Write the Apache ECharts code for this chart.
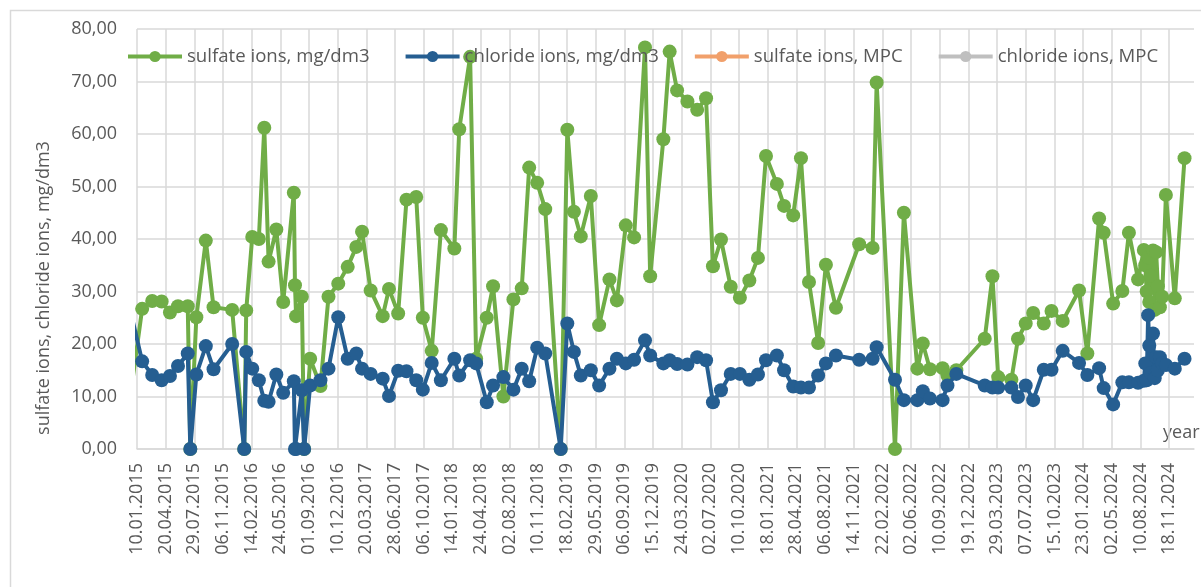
<!DOCTYPE html>
<html>
<head>
<meta charset="utf-8">
<script src="https://cdn.jsdelivr.net/npm/echarts@6/dist/echarts.min.js"></script>
<style>
  html, body { margin: 0; padding: 0; background: #ffffff; }
  #chart { width: 1201px; height: 587px; }
</style>
</head>
<body>
<div id="chart"></div>
<script>
// Sampling dates (dd.mm.yyyy)
const dates = [
  '15.12.2014',
  '28.01.2015','04.03.2015','06.04.2015','05.05.2015','02.06.2015','06.07.2015','15.07.2015','05.08.2015','07.09.2015','04.10.2015',
  '08.12.2015','19.01.2016','26.01.2016','16.02.2016','10.03.2016','29.03.2016','13.04.2016','10.05.2016','03.06.2016',
  '10.07.2016','14.07.2016','18.07.2016','07.08.2016','15.08.2016','05.09.2016','11.10.2016','08.11.2016','12.12.2016',
  '14.01.2017','13.02.2017','05.03.2017','04.04.2017','16.05.2017','07.06.2017','09.07.2017','07.08.2017','10.09.2017','03.10.2017','03.11.2017','05.12.2017',
  '21.01.2018','07.02.2018','17.03.2018','07.04.2018','14.05.2018','05.06.2018','11.07.2018','15.08.2018','13.09.2018','09.10.2018','06.11.2018','04.12.2018',
  '27.01.2019','19.02.2019','14.03.2019','07.04.2019','12.05.2019','10.06.2019','16.07.2019','11.08.2019','11.09.2019','10.10.2019','17.11.2019','05.12.2019',
  '20.01.2020','11.02.2020','08.03.2020','13.04.2020','17.05.2020','17.06.2020','11.07.2020','08.08.2020','11.09.2020','13.10.2020','15.11.2020','15.12.2020',
  '12.01.2021','19.02.2021','16.03.2021','17.04.2021','14.05.2021','11.06.2021','13.07.2021','09.08.2021','13.09.2021','03.12.2021',
  '19.01.2022','02.02.2022','07.04.2022','08.05.2022','24.06.2022','13.07.2022','07.08.2022','20.09.2022','07.10.2022','07.11.2022',
  '14.02.2023','13.03.2023','02.04.2023','18.05.2023','10.06.2023','07.07.2023','02.08.2023','08.09.2023','05.10.2023','13.11.2023',
  '09.01.2024','07.02.2024','19.03.2024','04.04.2024','07.05.2024','08.06.2024','01.07.2024','02.08.2024',
  '22.08.2024','27.08.2024','01.09.2024','06.09.2024','10.09.2024','15.09.2024','23.09.2024','29.09.2024','04.10.2024','10.10.2024','17.10.2024','25.10.2024','07.11.2024',
  '08.12.2024','11.01.2025'
];

// sulfate ions, mg/dm3
const sulfate = [
  9.0,
  26.7, 28.2, 28.1, 26.0, 27.2, 27.2, 0, 25.1, 39.7, 27.0,
  26.5, 0, 26.4, 40.4, 40.0, 61.2, 35.7, 41.8, 28.0,
  48.8, 31.2, 25.3, 29.0, 0, 17.2, 12.0, 29.0, 31.5,
  34.7, 38.5, 41.4, 30.2, 25.3, 30.5, 25.8, 47.5, 48.0, 25.0, 18.7, 41.7,
  38.2, 60.9, 74.7, 17.2, 25.0, 31.0, 10.0, 28.5, 30.6, 53.6, 50.7, 45.7,
  0, 60.8, 45.2, 40.5, 48.2, 23.6, 32.3, 28.3, 42.6, 40.3, 76.5, 32.9,
  59.0, 75.7, 68.3, 66.2, 64.6, 66.8, 34.8, 39.9, 30.9, 28.8, 32.1, 36.4,
  55.8, 50.5, 46.3, 44.5, 55.4, 31.8, 20.2, 35.1, 26.9, 39.0,
  38.3, 69.8, 0, 45.0, 15.3, 20.1, 15.2, 15.4, 14.0, 15.0,
  21.0, 32.9, 13.7, 13.2, 21.0, 23.9, 25.9, 23.9, 26.3, 24.4,
  30.2, 18.2, 43.9, 41.2, 27.7, 30.1, 41.2, 32.3,
  37.9, 35.0, 30.0, 36.5, 28.0, 33.0, 37.8, 26.5, 37.5, 31.0, 27.0, 29.0, 48.4,
  28.7, 55.4
];

// chloride ions, mg/dm3
const chloride = [
  27.0,
  16.7, 14.1, 13.1, 13.9, 15.8, 18.2, 0, 14.2, 19.6, 15.2,
  20.0, 0, 18.5, 15.3, 13.1, 9.2, 9.0, 14.2, 10.7,
  12.9, 0, 0, 11.2, 0, 12.1, 13.1, 15.3, 25.1,
  17.2, 18.2, 15.3, 14.3, 13.4, 10.1, 14.9, 14.8, 13.1, 11.3, 16.4, 13.1,
  17.2, 14.0, 16.9, 16.3, 8.9, 12.1, 13.7, 11.3, 15.3, 12.9, 19.3, 18.2,
  0, 23.9, 18.5, 14.0, 15.0, 12.1, 15.3, 17.2, 16.3, 17.0, 20.7, 17.8,
  16.3, 16.9, 16.2, 16.1, 17.5, 16.9, 8.9, 11.2, 14.3, 14.3, 13.2, 14.2,
  16.9, 17.8, 15.0, 11.9, 11.7, 11.7, 14.0, 16.3, 17.8, 17.0,
  17.2, 19.4, 13.2, 9.3, 9.3, 11.0, 9.6, 9.3, 12.1, 14.3,
  12.1, 11.7, 11.7, 11.7, 9.9, 12.1, 9.3, 15.1, 15.1, 18.7,
  16.4, 14.1, 15.4, 11.6, 8.5, 12.7, 12.7, 12.6,
  13.0, 16.3, 13.1, 25.5, 19.7, 14.5, 22.0, 13.5, 17.5, 15.0, 17.5, 16.3, 16.0,
  15.3, 17.2
];

// MPC series (no values plotted)
const sulfateMpc = [];
const chlorideMpc = [];

const seriesNames = ['sulfate ions, mg/dm3', 'chloride ions, mg/dm3', 'sulfate ions, MPC', 'chloride ions, MPC'];
const seriesColors = ['#70ad47', '#255e91', '#f1a06b', '#bfbfbf'];

// Date axis: first tick date, tick step in days, axis end date
const axisStart = '10.01.2015';
const tickStepDays = 100;
const axisEnd = '13.02.2025';

const yMin = 0, yMax = 80, yStep = 10;
const yTitle = 'sulfate ions, chloride ions, mg/dm3';
const xTitle = 'year';

const DAY = 86400000;
function parseDate(s) {
  const p = s.split('.').map(Number);
  return Date.UTC(p[2], p[1] - 1, p[0]);
}
const START = parseDate(axisStart);
function dayOf(s) { return Math.round((parseDate(s) - START) / DAY); }
function pad(n) { return (n < 10 ? '0' : '') + n; }
function fmtDay(v) {
  const t = new Date(START + v * DAY);
  return pad(t.getUTCDate()) + '.' + pad(t.getUTCMonth() + 1) + '.' + t.getUTCFullYear();
}

const toPairs = (vals) => vals.map((v, i) => [dayOf(dates[i]), v]);

const FONT = 'Open Sans';
const TXT = '#595959';
const GRID = '#d9d9d9';

function lineSeries(name, color, data, z) {
  return {
    name: name,
    type: 'line',
    data: data,
    symbol: 'circle',
    symbolSize: 14,
    showAllSymbol: true,
    clip: true,
    z: z,
    lineStyle: { color: color, width: 4 },
    itemStyle: { color: color },
    emphasis: { disabled: true }
  };
}

const chart = echarts.init(document.getElementById('chart'), null, { renderer: 'canvas' });
chart.setOption({
  animation: false,
  backgroundColor: '#ffffff',
  textStyle: { fontFamily: FONT },
  grid: { left: 137, right: 7, top: 29, bottom: 138, containLabel: false },
  legend: {
    left: 121,
    top: 42,
    itemWidth: 54,
    itemHeight: 14,
    itemGap: 34,
    data: seriesNames,
    lineStyle: { width: 4 },
    textStyle: { fontFamily: FONT, fontSize: 18.6, color: TXT },
    selectedMode: false
  },
  xAxis: {
    type: 'value',
    min: 0,
    max: dayOf(axisEnd),
    interval: tickStepDays,
    axisLine: { show: true, lineStyle: { color: GRID, width: 1.5 } },
    axisTick: { show: false },
    splitLine: { show: true, showMaxLine: false, lineStyle: { color: GRID, width: 1.5 } },
    axisLabel: {
      rotate: 90,
      margin: 14,
      color: TXT,
      fontFamily: FONT,
      fontSize: 18,
      showMaxLabel: false,
      hideOverlap: false,
      formatter: (v) => (v % tickStepDays === 0 ? fmtDay(v) : '')
    }
  },
  yAxis: {
    type: 'value',
    min: yMin,
    max: yMax,
    interval: yStep,
    axisLine: { show: false },
    axisTick: { show: false },
    splitLine: { show: true, lineStyle: { color: GRID, width: 1.5 } },
    axisLabel: {
      margin: 20,
      color: TXT,
      fontFamily: FONT,
      fontSize: 18,
      formatter: (v) => v.toFixed(2).replace('.', ',')
    }
  },
  graphic: [
    {
      type: 'rect',
      silent: true,
      shape: { x: 10.5, y: 10.5, width: 1400, height: 800 },
      style: { fill: 'none', stroke: GRID, lineWidth: 1.5 }
    },
    {
      type: 'text',
      silent: true,
      x: 44,
      y: 288,
      rotation: Math.PI / 2,
      style: { text: yTitle, x: 0, y: 0, align: 'center', verticalAlign: 'middle', fill: TXT, font: '18px "Open Sans"' }
    },
    {
      type: 'text',
      silent: true,
      x: 1163,
      y: 433,
      style: { text: xTitle, x: 0, y: 0, align: 'left', verticalAlign: 'middle', fill: TXT, font: '18px "Open Sans"' }
    }
  ],
  series: [
    lineSeries(seriesNames[0], seriesColors[0], toPairs(sulfate), 2),
    lineSeries(seriesNames[1], seriesColors[1], toPairs(chloride), 3),
    lineSeries(seriesNames[2], seriesColors[2], sulfateMpc, 4),
    lineSeries(seriesNames[3], seriesColors[3], chlorideMpc, 5)
  ]
});
</script>
</body>
</html>
